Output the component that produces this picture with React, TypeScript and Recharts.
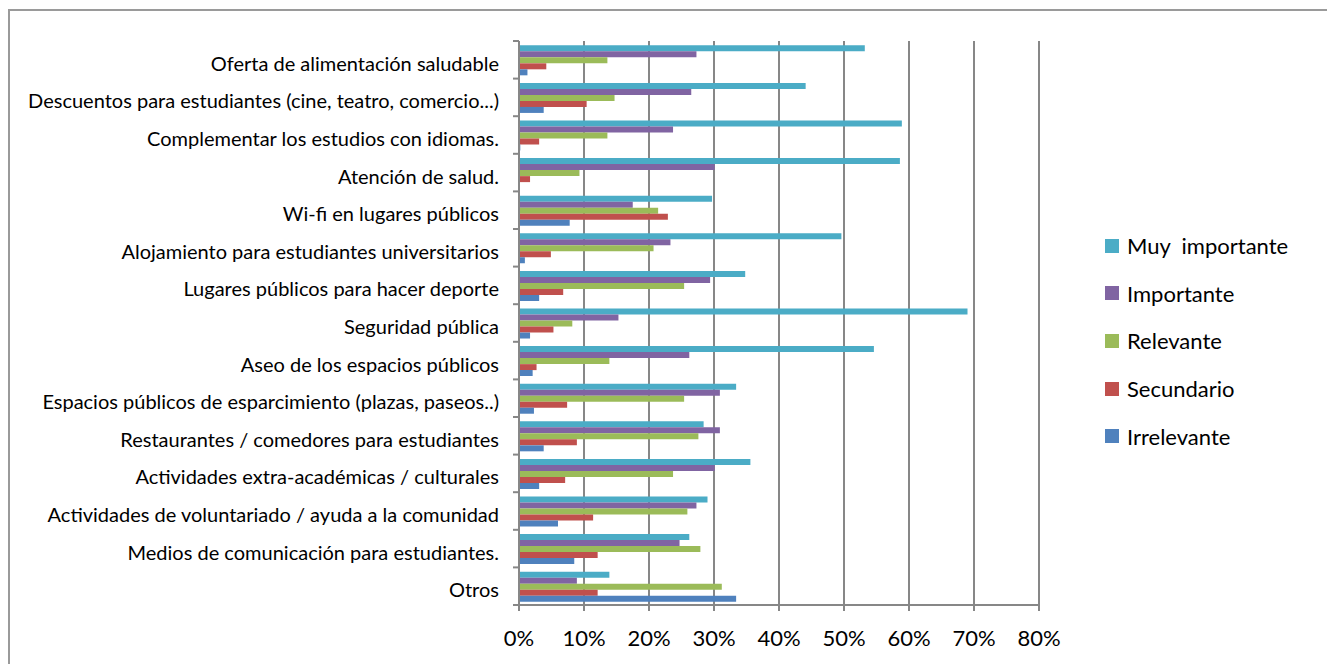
import { BarChart, Bar, XAxis, YAxis, CartesianGrid } from 'recharts'

const categories = [
  'Oferta de alimentación saludable',
  'Descuentos para estudiantes (cine, teatro, comercio...)',
  'Complementar los estudios con idiomas.',
  'Atención de salud.',
  'Wi-fi en lugares públicos',
  'Alojamiento para estudiantes universitarios',
  'Lugares públicos para hacer deporte',
  'Seguridad pública',
  'Aseo de los espacios públicos',
  'Espacios públicos de esparcimiento (plazas, paseos..)',
  'Restaurantes / comedores para estudiantes',
  'Actividades extra-académicas / culturales',
  'Actividades de voluntariado / ayuda a la comunidad',
  'Medios de comunicación para estudiantes.',
  'Otros',
]

const muyImportante = [53.2, 44.1, 58.9, 58.6, 29.7, 49.6, 34.8, 69.0, 54.6, 33.4, 28.4, 35.6, 29.0, 26.2, 13.9]
const importante = [27.3, 26.5, 23.7, 30.1, 17.5, 23.3, 29.4, 15.3, 26.2, 30.9, 30.9, 30.1, 27.3, 24.7, 8.9]
const relevante = [13.6, 14.7, 13.6, 9.3, 21.4, 20.7, 25.4, 8.2, 13.9, 25.4, 27.6, 23.7, 25.9, 27.9, 31.2]
const secundario = [4.2, 10.4, 3.1, 1.7, 22.9, 4.9, 6.8, 5.3, 2.7, 7.4, 8.9, 7.1, 11.4, 12.1, 12.1]
const irrelevante = [1.3, 3.8, 0.2, 0, 7.8, 0.9, 3.1, 1.7, 2.1, 2.3, 3.8, 3.1, 6.0, 8.5, 33.4]

const xTicks = [0, 10, 20, 30, 40, 50, 60, 70, 80]

const series = [
  { key: 'muy', name: 'Muy  importante', color: '#4BACC6', values: muyImportante },
  { key: 'imp', name: 'Importante', color: '#8064A2', values: importante },
  { key: 'rel', name: 'Relevante', color: '#9BBB59', values: relevante },
  { key: 'sec', name: 'Secundario', color: '#C0504D', values: secundario },
  { key: 'irr', name: 'Irrelevante', color: '#4F81BD', values: irrelevante },
]

const data = categories.map((categoria, i) => {
  const row: Record<string, string | number> = { categoria }
  series.forEach(s => { row[s.key] = s.values[i] })
  return row
})

const FONT = 'Lato, "Open Sans", sans-serif'
const GRID = '#878787'
const W = 1305
const H = 640
const MARGIN = { top: 30, right: 276, bottom: 0, left: 0 }
const X_AXIS_H = 46
const PLOT_H = H - MARGIN.top - MARGIN.bottom - X_AXIS_H
const BAND = PLOT_H / categories.length

function CategoryTick(props: any) {
  const { x, y, payload, index } = props
  const last = index === categories.length - 1
  return (
    <g>
      <line x1={x - 6} x2={x} y1={y - BAND / 2} y2={y - BAND / 2} stroke={GRID} strokeWidth={2} />
      {last && <line x1={x - 6} x2={x} y1={y + BAND / 2} y2={y + BAND / 2} stroke={GRID} strokeWidth={2} />}
      <text x={x - 20} y={y + 4} dy="0.35em" textAnchor="end" fontFamily={FONT} fontSize={20} fill="#000">
        {payload.value}
      </text>
    </g>
  )
}

function SideLegend() {
  return (
    <div style={{ position: 'absolute', left: 1095, top: 211, fontFamily: FONT, fontSize: 22, color: '#000' }}>
      {series.map(s => (
        <div key={s.key} style={{ height: 47.6, display: 'flex', alignItems: 'center', whiteSpace: 'pre' }}>
          <span style={{ width: 14, height: 14, background: s.color, display: 'inline-block', marginRight: 8 }} />
          {s.name}
        </div>
      ))}
    </div>
  )
}

export default function App() {
  return (
    <div style={{ position: 'fixed', left: 8, top: 9, width: 1319, height: 655, borderTop: '2px solid #9a9a9a', borderLeft: '2px solid #9a9a9a', boxSizing: 'border-box', background: '#fff', overflow: 'hidden' }}>
      <div style={{ position: 'relative', width: W, height: H }}>
        <BarChart width={W} height={H} data={data} layout="vertical" margin={MARGIN} barCategoryGap="11.5%" barGap={0}>
          <CartesianGrid horizontal={false} stroke={GRID} strokeWidth={2} />
          <XAxis
            type="number"
            domain={[0, 80]}
            ticks={xTicks}
            tickFormatter={(v: number) => `${v}%`}
            height={X_AXIS_H}
            stroke={GRID}
            strokeWidth={2}
            tickSize={6}
            tickMargin={19}
            tick={{ fontFamily: FONT, fontSize: 22, fill: '#000' }}
            interval={0}
          />
          <YAxis
            type="category"
            dataKey="categoria"
            width={509}
            stroke={GRID}
            strokeWidth={2}
            tickLine={false}
            tickSize={0}
            tickMargin={0}
            interval={0}
            tick={<CategoryTick />}
          />
          {series.map(s => (
            <Bar key={s.key} dataKey={s.key} name={s.name} fill={s.color} isAnimationActive={false} />
          ))}
        </BarChart>
        <SideLegend />
      </div>
    </div>
  )
}
